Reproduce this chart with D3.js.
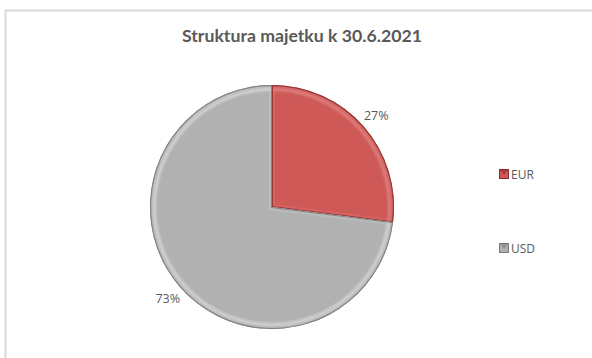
<!DOCTYPE html>
<html>
<head>
<meta charset="utf-8">
<script src="https://cdn.jsdelivr.net/npm/d3@7"></script>
<style>
  html, body { margin: 0; padding: 0; background: #fff; }
  svg { display: block; }
</style>
</head>
<body>
<svg id="chart" width="592" height="358"></svg>
<script>
// Asset structure by currency
const categories = ["EUR", "USD"];
const shares = [27, 73];
const percentLabels = ["27%", "73%"];
const chartTitle = "Struktura majetku k 30.6.2021";

const palette = {
  EUR: { base: "#cf5957", light: "#dc7c7a", dark: "#8e2d2c" },
  USD: { base: "#b1b1b1", light: "#d0d0d0", dark: "#7b7b7b" }
};

const svg = d3.select("#chart");
const W = 592, H = 358;
const cx = 272, cy = 207, R = 122;

// chart frame (top and left edges are visible)
svg.append("line").attr("x1", 5).attr("y1", 10.5).attr("x2", W).attr("y2", 10.5)
  .attr("stroke", "#d9d9d9").attr("stroke-width", 2);
svg.append("line").attr("x1", 5.5).attr("y1", 10).attr("x2", 5.5).attr("y2", H)
  .attr("stroke", "#d9d9d9").attr("stroke-width", 2);

// title
svg.append("text")
  .attr("x", 302).attr("y", 42)
  .attr("text-anchor", "middle")
  .attr("font-family", "Lato, 'Open Sans', sans-serif")
  .attr("font-weight", "bold")
  .attr("font-size", 17.7)
  .attr("fill", "#595959")
  .text(chartTitle);

const defs = svg.append("defs");

// bevelled look: flat fill, a light rim and a dark outer edge
categories.forEach(c => {
  const p = palette[c];
  const gr = defs.append("radialGradient")
    .attr("id", "grad-" + c)
    .attr("gradientUnits", "userSpaceOnUse")
    .attr("cx", 0).attr("cy", 0).attr("r", R);
  gr.append("stop").attr("offset", "0%").attr("stop-color", p.base);
  gr.append("stop").attr("offset", "93.5%").attr("stop-color", p.base);
  gr.append("stop").attr("offset", "96.5%").attr("stop-color", p.light);
  gr.append("stop").attr("offset", "98.5%").attr("stop-color", p.base);
  gr.append("stop").attr("offset", "100%").attr("stop-color", p.dark);
});

const pie = d3.pie().sort(null).value(d => d.value).startAngle(0).endAngle(2 * Math.PI);
const data = categories.map((c, i) => ({ name: c, value: shares[i], label: percentLabels[i] }));
const arcs = pie(data);
const arc = d3.arc().innerRadius(0).outerRadius(R);

const g = svg.append("g").attr("transform", `translate(${cx},${cy})`);

arcs.forEach(a => {
  const p = palette[a.data.name];
  const clipId = "clip-" + a.data.name;
  defs.append("clipPath").attr("id", clipId)
    .append("path").attr("d", arc(a));

  g.append("path")
    .attr("d", arc(a))
    .attr("fill", `url(#grad-${a.data.name})`);
  // inner bevel along the slice edges
  g.append("path")
    .attr("d", arc(a))
    .attr("fill", "none")
    .attr("stroke", p.light)
    .attr("stroke-width", 6)
    .attr("stroke-opacity", 0.35)
    .attr("clip-path", `url(#${clipId})`);
  g.append("path")
    .attr("d", arc(a))
    .attr("fill", "none")
    .attr("stroke", p.dark)
    .attr("stroke-width", 2)
    .attr("stroke-opacity", 0.85)
    .attr("clip-path", `url(#${clipId})`);
});

// data labels outside the pie, along each slice's middle
const labelArc = d3.arc().innerRadius(139).outerRadius(139);
arcs.forEach(a => {
  const [x, y] = labelArc.centroid(a);
  g.append("text")
    .attr("x", x).attr("y", y)
    .attr("text-anchor", "middle")
    .attr("dominant-baseline", "central")
    .attr("font-family", "'Open Sans', Lato, sans-serif")
    .attr("font-size", 12.5)
    .attr("fill", "#595959")
    .text(a.data.label);
});

// legend
const legendY = d3.scalePoint().domain(categories).range([174, 248]);
categories.forEach(c => {
  const p = palette[c];
  const y = legendY(c);
  const lg = svg.append("g").attr("transform", `translate(499,${y - 5})`);
  lg.append("rect").attr("width", 10).attr("height", 10).attr("fill", p.dark);
  lg.append("rect").attr("x", 1).attr("y", 1).attr("width", 8).attr("height", 8).attr("fill", p.base);
  lg.append("path").attr("d", "M1,1 L9,1 L5,6 Z").attr("fill", p.dark).attr("opacity", 0.6);
  svg.append("text")
    .attr("x", 511).attr("y", y)
    .attr("dominant-baseline", "central")
    .attr("font-family", "'Open Sans', Lato, sans-serif")
    .attr("font-size", 12)
    .attr("fill", "#595959")
    .text(c);
});
</script>
</body>
</html>
